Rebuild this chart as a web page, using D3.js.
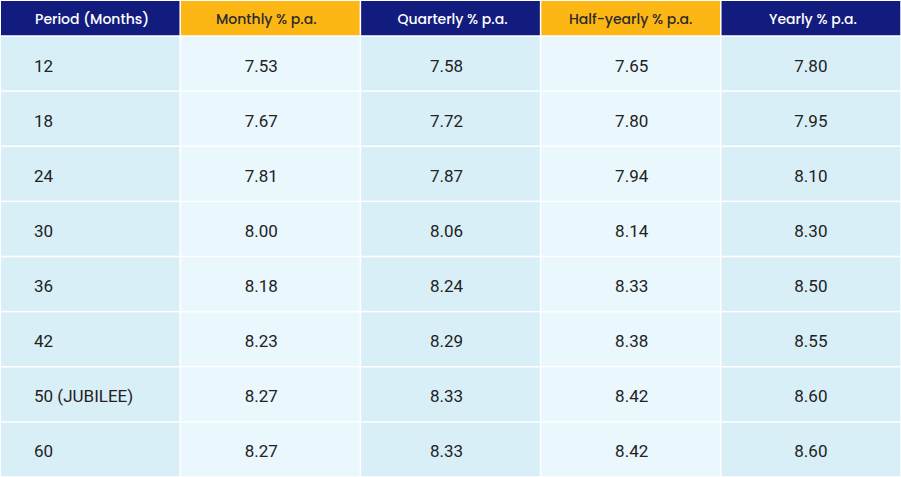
<!DOCTYPE html>
<html>
<head>
<meta charset="utf-8">
<style>
  * { margin: 0; padding: 0; box-sizing: border-box; }
  body { background: #fff; }
  svg { display: block; }
</style>
</head>
<body>
<div id="table"></div>
<script src="https://cdn.jsdelivr.net/npm/d3@7"></script>
<script>
const headers = ['Period (Months)', 'Monthly % p.a.', 'Quarterly % p.a.', 'Half-yearly % p.a.', 'Yearly % p.a.'];
const periods = ['12', '18', '24', '30', '36', '42', '50 (JUBILEE)', '60'];
const monthly = [7.53, 7.67, 7.81, 8.00, 8.18, 8.23, 8.27, 8.27];
const quarterly = [7.58, 7.72, 7.87, 8.06, 8.24, 8.29, 8.33, 8.33];
const halfYearly = [7.65, 7.80, 7.94, 8.14, 8.33, 8.38, 8.42, 8.42];
const yearly = [7.80, 7.95, 8.10, 8.30, 8.50, 8.55, 8.60, 8.60];

const width = 901, height = 477;
const headerTop = 1, headerBottom = 36;
const series = [monthly, quarterly, halfYearly, yearly];

const x = d3.scaleBand().domain(d3.range(headers.length)).range([0, width]);
const y = d3.scaleBand().domain(d3.range(periods.length)).range([headerBottom, height]);
const gap = 1.5;
// small horizontal nudges of the text inside each column (the source isn't perfectly centred)
const headNudge = [2, -4, 2, 0, 2];
const bodyNudge = [0, -9, -4, 1, 0];

const headFill = i => (i % 2 === 1 ? '#fdb714' : '#121c7e');
const headText = i => (i % 2 === 1 ? '#2b2b2b' : '#ffffff');
const bodyFill = i => (i % 2 === 1 ? '#eaf7fd' : '#d9eff8');

const svg = d3.select('#table').append('svg')
  .attr('width', width).attr('height', height)
  .attr('viewBox', [0, 0, width, height]);

// header
const head = svg.append('g').attr('class', 'header');
head.selectAll('rect')
  .data(headers)
  .join('rect')
  .attr('x', (d, i) => x(i) + (i === 0 ? 1 : gap / 2))
  .attr('y', headerTop)
  .attr('width', (d, i) => x.bandwidth() - (i === 0 ? gap / 2 + 1 : gap))
  .attr('height', headerBottom - headerTop - gap / 2)
  .attr('fill', (d, i) => headFill(i));
head.selectAll('text')
  .data(headers)
  .join('text')
  .attr('x', (d, i) => x(i) + x.bandwidth() / 2 + headNudge[i])
  .attr('y', 24)
  .attr('text-anchor', 'middle')
  .attr('font-family', 'Poppins, Inter, sans-serif')
  .attr('font-weight', 500)
  .attr('font-size', 14)
  .attr('fill', (d, i) => headText(i))
  .text(d => d);

// body
const rows = periods.map((p, r) => [p].concat(series.map(s => s[r].toFixed(2))));
const body = svg.append('g').attr('class', 'body');
const rowG = body.selectAll('g')
  .data(rows)
  .join('g')
  .attr('transform', (d, r) => 'translate(0,' + y(r) + ')');

rowG.selectAll('rect')
  .data(d => d)
  .join('rect')
  .attr('x', (d, i) => x(i) + (i === 0 ? 1 : gap / 2))
  .attr('y', gap / 2)
  .attr('width', (d, i) => x.bandwidth() - (i === 0 ? gap / 2 + 1 : gap))
  .attr('height', y.bandwidth() - gap)
  .attr('fill', (d, i) => bodyFill(i));

rowG.selectAll('text')
  .data(d => d)
  .join('text')
  .attr('x', (d, i) => (i === 0 ? x(i) + 34 : x(i) + x.bandwidth() / 2 + bodyNudge[i]))
  .attr('y', 35.5)
  .attr('text-anchor', (d, i) => (i === 0 ? 'start' : 'middle'))
  .attr('font-family', 'Roboto, sans-serif')
  .attr('font-size', 17)
  .attr('fill', '#222')
  .text(d => d);
</script>
</body>
</html>
